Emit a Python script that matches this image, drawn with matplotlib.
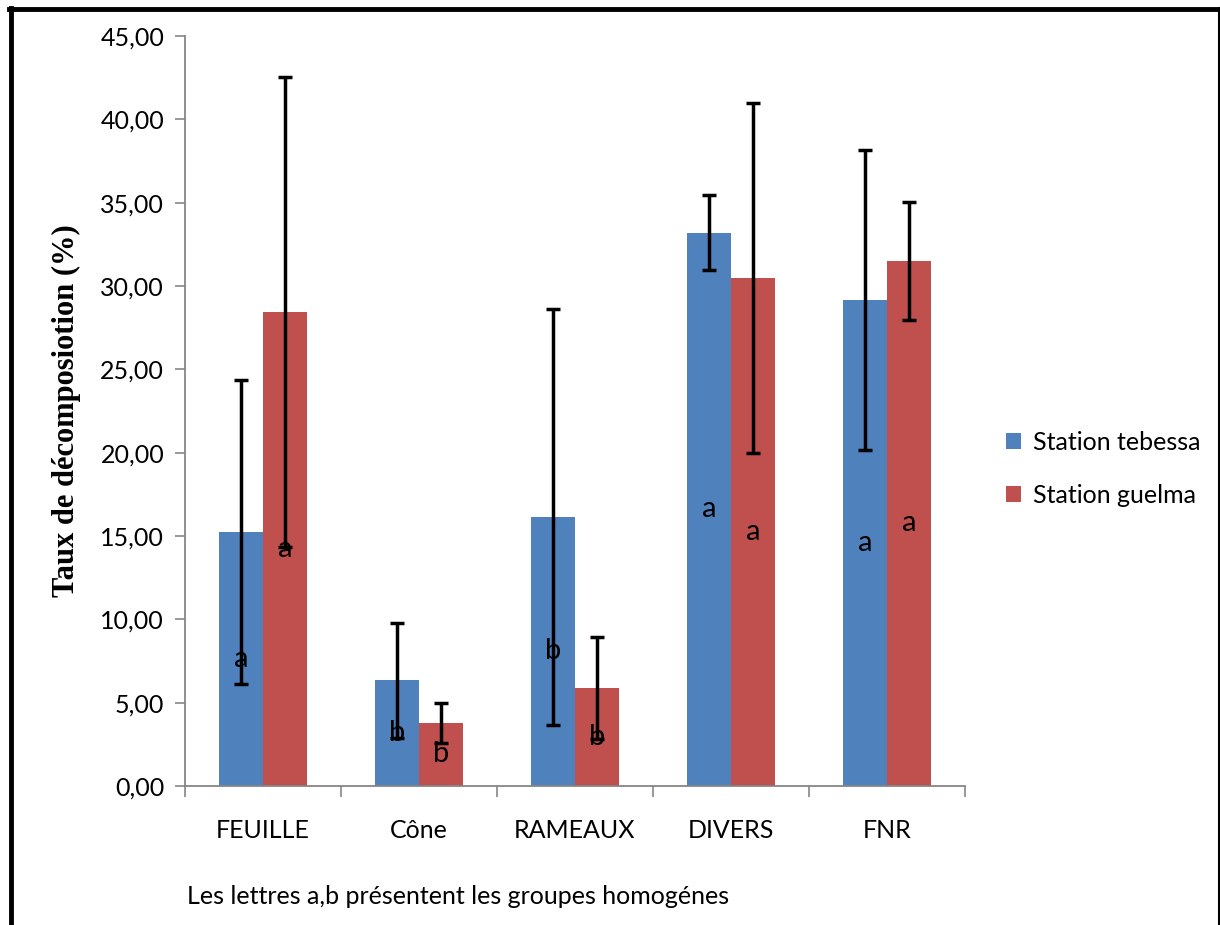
import numpy as np
import matplotlib.pyplot as plt
from matplotlib.lines import Line2D

categories = ['FEUILLE', 'Cône', 'RAMEAUX', 'DIVERS', 'FNR']
tebessa = [15.24, 6.36, 16.14, 33.18, 29.16]
tebessa_err = [9.1, 3.45, 12.5, 2.25, 9.0]
guelma = [28.42, 3.78, 5.88, 30.48, 31.50]
guelma_err = [14.1, 1.2, 3.05, 10.5, 3.55]
tebessa_grp = ['a', 'b', 'b', 'a', 'a']
guelma_grp = ['a', 'b', 'b', 'a', 'a']
yticks = np.arange(0, 46, 5)

FONT = 'Lato'
AXIS_GREY = '#868686'

fig = plt.figure(figsize=(12.2, 9.25), dpi=100)
ax = fig.add_axes([185/1220, 1 - 786/925, 780/1220, 750/925])

x = np.arange(len(categories))
w = 0.282
ekw = dict(ecolor='black', elinewidth=2.5, capsize=5, capthick=2.5)
ax.bar(x - w/2, tebessa, w, color='#4F81BD', label='Station tebessa',
       yerr=tebessa_err, error_kw=ekw, zorder=2)
ax.bar(x + w/2, guelma, w, color='#C0504D', label='Station guelma',
       yerr=guelma_err, error_kw=ekw, zorder=2)

# group letters at mid-height of each bar
for i in range(len(categories)):
    ax.text(x[i] - w/2, tebessa[i] / 2, tebessa_grp[i], ha='center', va='center',
            fontsize=21, family=FONT, zorder=3)
    ax.text(x[i] + w/2, guelma[i] / 2, guelma_grp[i], ha='center', va='center',
            fontsize=21, family=FONT, zorder=3)

ax.set_xlim(-0.5, len(categories) - 0.5)
ax.set_ylim(0, 45)
ax.set_yticks(yticks)
ax.set_yticklabels([f'{v:.2f}'.replace('.', ',') for v in yticks], family=FONT, fontsize=18)
ax.set_xticks(np.arange(-0.5, len(categories), 1.0))
ax.set_xticklabels([])
ax.set_xticks(x, minor=True)
ax.set_xticklabels(categories, minor=True, family=FONT, fontsize=18)
ax.tick_params(axis='x', which='minor', length=0, pad=24)
ax.tick_params(axis='x', which='major', length=8, width=1.2, color=AXIS_GREY)
ax.tick_params(axis='y', length=7, width=1.2, color=AXIS_GREY, pad=8)
for s in ['top', 'right']:
    ax.spines[s].set_visible(False)
for s in ['left', 'bottom']:
    ax.spines[s].set_color(AXIS_GREY)
    ax.spines[s].set_linewidth(1.3)

ax.set_ylabel('Taux de décomposiotion (%)', family='Liberation Serif',
              fontweight='bold', fontsize=22, labelpad=14)

ax.legend(loc='center left', bbox_to_anchor=(1.036, 0.423), frameon=False,
          prop={'family': FONT, 'size': 18}, handlelength=0.6, handleheight=0.6,
          handletextpad=0.5, labelspacing=1.2, borderpad=0)

fig.text(187/1220, 1 - 897/925, 'Les lettres a,b présentent les groupes homogénes',
         family=FONT, fontsize=18, va='center')

# page border like the original frame
fig.add_artist(Line2D([11/1220, 11/1220], [0, 1 - 8/925], color='black', lw=3.5,
                      transform=fig.transFigure))
fig.add_artist(Line2D([9/1220, 1219/1220], [1 - 8.5/925, 1 - 8.5/925], color='black', lw=3.5,
                      transform=fig.transFigure))
fig.add_artist(Line2D([1218.5/1220, 1218.5/1220], [0, 1 - 8/925], color='black', lw=1.5,
                      transform=fig.transFigure))

fig.savefig('out.png', dpi=100)
